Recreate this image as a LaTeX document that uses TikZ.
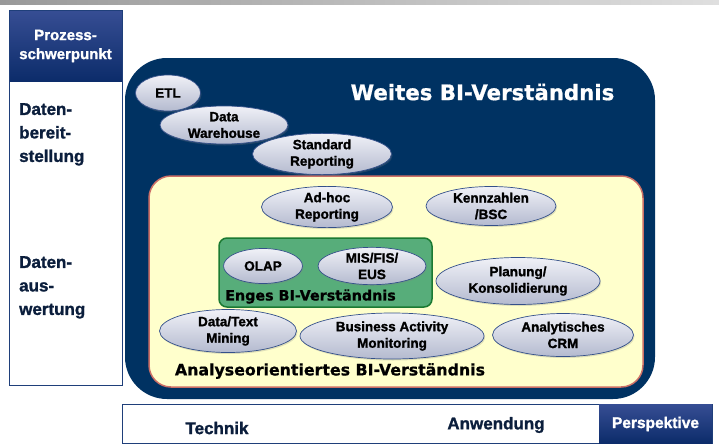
\documentclass[tikz,border=0pt]{standalone}
\usepackage{fontspec}
\setmainfont{Liberation Sans}[BoldFont={Liberation Sans Bold}, BoldFeatures={FakeBold=1.3}]
\newfontfamily\verd{DejaVu Sans}[BoldFont={DejaVu Sans Bold}, BoldFeatures={FakeBold=0.8}]
\usetikzlibrary{shapes.geometric,shadows}
\definecolor{navy}{HTML}{003262}
\definecolor{headblue}{HTML}{0C2C6A}
\definecolor{lineblue}{HTML}{1F3F7A}
\definecolor{txtnavy}{HTML}{0B1E3C}
\definecolor{yfill}{HTML}{FFFFCC}
\definecolor{ydraw}{HTML}{CC6F66}
\definecolor{gfill}{HTML}{57AD7A}
\definecolor{gdraw}{HTML}{1B7A32}
\definecolor{elltop}{HTML}{F0F1F7}
\definecolor{ellbot}{HTML}{B4BACF}
\definecolor{elldraw}{HTML}{34508A}
\tikzset{
  ell/.style={ellipse, inner sep=0pt, draw=elldraw, line width=0.7pt,
    top color=elltop, bottom color=ellbot, align=center,
    font=\bfseries\fontsize{13.5}{16.5}\selectfont, text=black,
    drop shadow={opacity=0.25, shadow xshift=1pt, shadow yshift=-1.5pt}},
  sidetxt/.style={anchor=north west, align=left, text=txtnavy,
    font=\bfseries\fontsize{17}{23.5}\selectfont, inner sep=0pt},
  bigtitle/.style={font=\verd\bfseries\fontsize{21.3}{24}\selectfont, inner sep=0pt},
  boxtitle/.style={font=\verd\bfseries\fontsize{15.8}{18}\selectfont, inner sep=0pt},
  bottxt/.style={font=\bfseries\fontsize{17}{20}\selectfont, text=txtnavy, inner sep=0pt}
}
\begin{document}
\begin{tikzpicture}[x=1pt,y=-1pt]
\useasboundingbox (0,0) rectangle (719,447);
\fill[white] (0,0) rectangle (719,447);
% top gray strip
\shade[left color=gray!80, right color=gray!25] (0,0) rectangle (719,4);
% left column
\shade[top color=headblue!80!white!90!blue, bottom color=headblue] (9,10) rectangle (122,81);
\draw[lineblue, line width=0.8pt] (9,10) rectangle (122,385);
\node[text=white, align=center, font=\bfseries\fontsize{15}{19}\selectfont, inner sep=0pt] (proz) at (65.5,46) {Prozess-\\schwerpunkt};
\node[sidetxt] (bereit) at (19,103) {Daten-\\bereit-\\stellung};
\node[sidetxt] (ausw) at (19,256) {Daten-\\aus-\\wertung};
% bottom bar
\draw[lineblue, line width=0.8pt] (122,404) rectangle (712,443);
\shade[top color=headblue!80!white!90!blue, bottom color=headblue] (599,404) rectangle (712,443);
\node[bottxt] (technik) at (217,428) {Technik};
\node[bottxt] (anw) at (496,425) {Anwendung};
\node[text=white, font=\bfseries\fontsize{15.5}{18}\selectfont, inner sep=0pt] (persp) at (655.5,424) {Perspektive};
% wide BI box
\fill[navy, rounded corners=42pt] (125,58) rectangle (655,399);
\node[bigtitle, text=white] (weit) at (482.5,92) {Weites BI-Verständnis};
% analysis box
\draw[ydraw, fill=yfill, line width=1.5pt, rounded corners=22pt] (149,176) rectangle (643,387);
\node[boxtitle] (analyse) at (330,371) {Analyseorientiertes BI-Verständnis};
% narrow box
\draw[gdraw, fill=gfill, line width=1.5pt, rounded corners=8pt] (219,238) rectangle (432,307);
\node[boxtitle, text=black, font=\verd\bfseries\fontsize{14.3}{17}\selectfont] (enges) at (310.5,296.5) {Enges BI-Verständnis};
% ellipses
\node[ell, minimum width=65pt, minimum height=36pt] (etl) at (168,93) {ETL};
\node[ell, minimum width=128pt, minimum height=38pt] (dwh) at (224,125) {Data\\Warehouse};
\node[ell, minimum width=139pt, minimum height=35pt] (std) at (322,154) {Standard\\Reporting};
\node[ell, minimum width=131pt, minimum height=36pt] (adhoc) at (327,207) {Ad-hoc\\Reporting};
\node[ell, minimum width=130pt, minimum height=39pt] (kenn) at (491,206) {Kennzahlen\\/BSC};
\node[ell, minimum width=79pt, minimum height=35pt] (olap) at (263,266) {OLAP};
\node[ell, minimum width=108pt, minimum height=37pt] (mis) at (372,266) {MIS/FIS/\\EUS};
\node[ell, minimum width=164pt, minimum height=47pt] (plan) at (518,281) {Planung/\\Konsolidierung};
\node[ell, minimum width=137pt, minimum height=43pt] (dtm) at (228,331) {Data/Text\\Mining};
\node[ell, minimum width=184pt, minimum height=46pt] (bam) at (392,336) {Business Activity\\Monitoring};
\node[ell, minimum width=141pt, minimum height=43pt] (crm) at (563,335) {Analytisches\\CRM};
\end{tikzpicture}
\end{document}
